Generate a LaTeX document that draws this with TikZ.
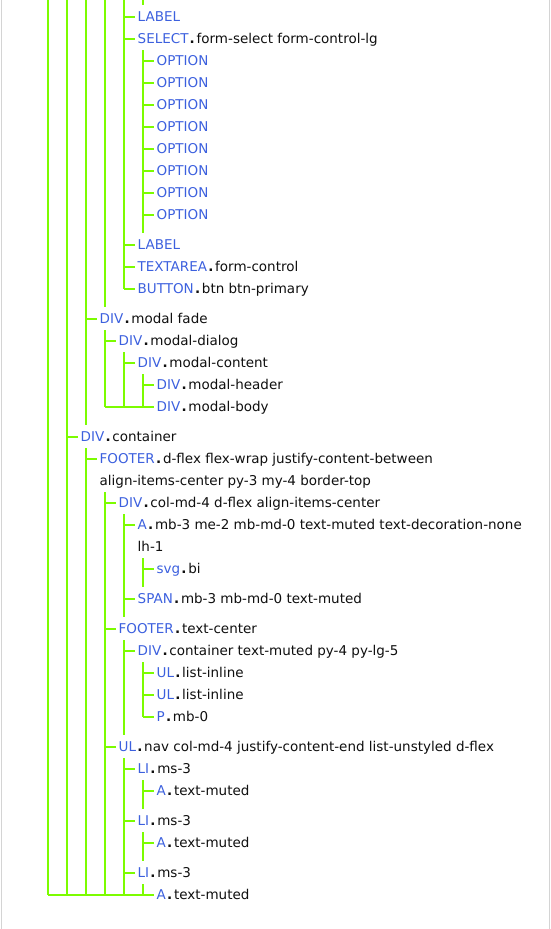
\documentclass[tikz,border=0pt]{standalone}
\usepackage{fontspec}
\setmainfont{DejaVu Sans}
\definecolor{guidegreen}{RGB}{124,252,0}
\definecolor{tagblue}{RGB}{60,96,222}
\definecolor{classink}{RGB}{15,15,15}
\definecolor{framegray}{RGB}{212,212,212}

% tag name in blue, class list after a dot
\newcommand{\tg}[1]{\textcolor{tagblue}{#1}}
\newcommand{\cls}[1]{\kern1.2pt{\bfseries.}\kern1.8pt#1}

% one tree entry: name, x of the parent's guide line, row y, label
\newcommand{\domnode}[4]{%
  \coordinate (#1-in) at (#2,#3);
  \node[entry] (#1) at ([xshift=13.5pt]#1-in) {#4};
  \draw[tick] (#1-in) -- (#1);
}

\begin{document}
\begin{tikzpicture}[x=1pt,y=-1pt,
  guide/.style={draw=guidegreen,line width=1.6pt},
  tick/.style={guide,shorten >=2.5pt},
  entry/.style={anchor=west,inner sep=0pt,text height=9.8pt,text depth=0pt,
    font=\fontsize{13.5}{16}\selectfont,text=classink},
  frame/.style={draw=framegray,line width=1pt}]
\useasboundingbox (0,0) rectangle (551,929);
\draw[frame] (1.5,0) -- (1.5,929);
\draw[frame] (549.5,0) -- (549.5,929);

% form fields
\domnode{labA}{124}{17}{\tg{LABEL}}
\domnode{sel}{124}{39}{\tg{SELECT}\cls{form-select form-control-lg}}
\domnode{opt1}{143}{61}{\tg{OPTION}}
\domnode{opt2}{143}{83}{\tg{OPTION}}
\domnode{opt3}{143}{105}{\tg{OPTION}}
\domnode{opt4}{143}{127}{\tg{OPTION}}
\domnode{opt5}{143}{149}{\tg{OPTION}}
\domnode{opt6}{143}{171}{\tg{OPTION}}
\domnode{opt7}{143}{193}{\tg{OPTION}}
\domnode{opt8}{143}{215}{\tg{OPTION}}
\domnode{labB}{124}{245}{\tg{LABEL}}
\domnode{txa}{124}{267}{\tg{TEXTAREA}\cls{form-control}}
\domnode{btn}{124}{289}{\tg{BUTTON}\cls{btn btn-primary}}

% modal
\domnode{modal}{86}{319}{\tg{DIV}\cls{modal fade}}
\domnode{mdialog}{105}{341}{\tg{DIV}\cls{modal-dialog}}
\domnode{mcontent}{124}{363}{\tg{DIV}\cls{modal-content}}
\domnode{mheader}{143}{385}{\tg{DIV}\cls{modal-header}}
\domnode{mbody}{143}{407}{\tg{DIV}\cls{modal-body}}

% page footer
\domnode{cont}{67}{437}{\tg{DIV}\cls{container}}
\domnode{foot}{86}{459}{\tg{FOOTER}\cls{d-flex flex-wrap justify-content-between}}
\node[entry] (foot-wrap) at ([yshift=-22pt]foot.west) {align-items-center py-3 my-4 border-top};
\domnode{colmd}{105}{503}{\tg{DIV}\cls{col-md-4 d-flex align-items-center}}
\domnode{brand}{124}{525}{\tg{A}\cls{mb-3 me-2 mb-md-0 text-muted text-decoration-none}}
\node[entry] (brand-wrap) at ([yshift=-22pt]brand.west) {lh-1};
\domnode{svg}{143}{569}{\tg{svg}\cls{bi}}
\domnode{span}{124}{599}{\tg{SPAN}\cls{mb-3 mb-md-0 text-muted}}
\domnode{foottc}{105}{629}{\tg{FOOTER}\cls{text-center}}
\domnode{contm}{124}{651}{\tg{DIV}\cls{container text-muted py-4 py-lg-5}}
\domnode{ulA}{143}{673}{\tg{UL}\cls{list-inline}}
\domnode{ulB}{143}{695}{\tg{UL}\cls{list-inline}}
\domnode{para}{143}{717}{\tg{P}\cls{mb-0}}
\domnode{nav}{105}{747}{\tg{UL}\cls{nav col-md-4 justify-content-end list-unstyled d-flex}}
\domnode{liA}{124}{769}{\tg{LI}\cls{ms-3}}
\domnode{aA}{143}{791}{\tg{A}\cls{text-muted}}
\domnode{liB}{124}{821}{\tg{LI}\cls{ms-3}}
\domnode{aB}{143}{843}{\tg{A}\cls{text-muted}}
\domnode{liC}{124}{873}{\tg{LI}\cls{ms-3}}
\domnode{aC}{143}{895}{\tg{A}\cls{text-muted}}

% guide lines carried down from the rows above
\draw[guide] (48,0) -- (48,895);
\draw[guide] (67,0) -- (67,895);
\draw[guide] (86,0) -- (86,425);
\draw[guide] (105,0) -- (105,307);
\draw[guide] (124,0) -- (btn-in);
\draw[guide] (143,0) -- (143,5);

% children of each open element
\draw[guide] (143,50) -- (143,233);
\draw[guide] (105,330) -- (105,407);
\draw[guide] (124,352) -- (124,407);
\draw[guide] (143,374) -- (mbody-in);
\draw[tick] (105,407) -- (mbody);
\draw[guide] (86,448) -- (86,895);
\draw[guide] (105,492) -- (105,895);
\draw[guide] (124,514) -- (124,617);
\draw[guide] (143,558) -- (143,587);
\draw[guide] (124,640) -- (124,735);
\draw[guide] (143,662) -- (para-in);
\draw[guide] (124,758) -- (124,895);
\draw[guide] (143,780) -- (143,809);
\draw[guide] (143,832) -- (143,861);
\draw[guide] (143,884) -- (aC-in);
\draw[tick] (48,895) -- (aC);
\end{tikzpicture}
\end{document}
